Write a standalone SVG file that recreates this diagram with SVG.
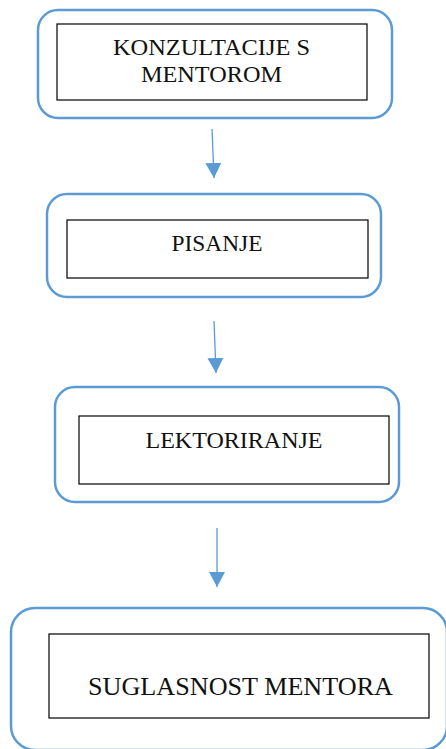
<svg xmlns="http://www.w3.org/2000/svg" width="446" height="749" viewBox="0 0 446 749">
<style>
.outer{fill:#fff;stroke:#5B9BD5;stroke-width:2.5}
.inner{fill:#fff;stroke:#000;stroke-width:1.2}
.t{font-family:'Liberation Serif','Times New Roman',serif;fill:#111;text-anchor:middle}
.conn{stroke:#5B9BD5;stroke-width:1.3;fill:none}
</style>
<defs>
<marker id="ah" markerUnits="userSpaceOnUse" markerWidth="16" markerHeight="16" refX="15" refY="8" orient="auto">
<path d="M0,0 L15,8 L0,16 Z" fill="#5B9BD5"/>
</marker>
</defs>
<rect width="446" height="749" fill="#fff"/>
<g id="n1">
<rect class="outer" x="38" y="10" width="354" height="108" rx="20"/>
<rect class="inner" x="57" y="24" width="310" height="76"/>
<text class="t" x="211.5" y="55" font-size="23" textLength="197" lengthAdjust="spacingAndGlyphs">KONZULTACIJE S</text>
<text class="t" x="211.5" y="82" font-size="23" textLength="141" lengthAdjust="spacingAndGlyphs">MENTOROM</text>
</g>
<g id="n2">
<rect class="outer" x="47" y="194" width="334" height="103" rx="20"/>
<rect class="inner" x="67" y="220" width="301" height="58"/>
<text class="t" x="217" y="251" font-size="24" textLength="91" lengthAdjust="spacingAndGlyphs">PISANJE</text>
</g>
<g id="n3">
<rect class="outer" x="55" y="387" width="344" height="115" rx="20"/>
<rect class="inner" x="79" y="416" width="310" height="68"/>
<text class="t" x="234" y="448" font-size="24" textLength="177" lengthAdjust="spacingAndGlyphs">LEKTORIRANJE</text>
</g>
<g id="n4">
<rect class="outer" x="11" y="608" width="436" height="142" rx="24"/>
<rect class="inner" x="49" y="634" width="380" height="84"/>
<text class="t" x="240.5" y="695" font-size="26" textLength="305" lengthAdjust="spacingAndGlyphs">SUGLASNOST MENTORA</text>
</g>
<g id="connectors">
<line class="conn" x1="212" y1="129" x2="214" y2="178" marker-end="url(#ah)"/>
<line class="conn" x1="214" y1="321" x2="216" y2="373" marker-end="url(#ah)"/>
<line class="conn" x1="217" y1="528" x2="217" y2="587" marker-end="url(#ah)"/>
</g>
</svg>
